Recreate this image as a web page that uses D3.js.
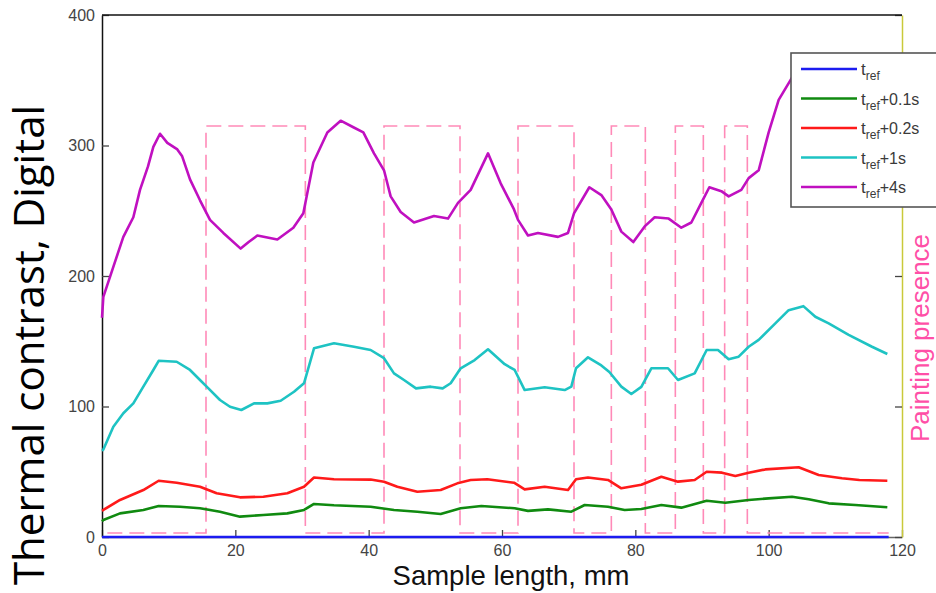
<!DOCTYPE html>
<html>
<head>
<meta charset="utf-8">
<script src="https://cdn.jsdelivr.net/npm/d3@7"></script>
<style>
  body { margin: 0; background: #fff; }
  svg { display: block; }
</style>
</head>
<body>
<div id="chart"></div>
<script>
// series values: [sample length mm, thermal contrast]
var tRef = [[0, 0], [118, 0]];
var tRef01 = [[0, 12], [0.2, 13], [2.7, 18.1], [6.2, 20.7], [8.5, 23.8], [11.7, 23.2], [14.7, 22], [17.7, 19.4],
  [20.7, 15.6], [24.2, 16.9], [27.8, 18.1], [30.3, 20.7], [31.8, 25.3], [34.8, 24.3], [40.3, 23.2], [43.8, 20.7],
  [47.3, 19.4], [50.8, 17.6], [53.8, 22], [56.9, 23.8], [61.9, 22], [63.9, 20], [66.9, 21.2], [70.4, 19.4],
  [72.4, 24.5], [75.9, 23.2], [78.4, 20.7], [80.9, 21.5], [83.9, 24.5], [86.9, 22.5], [90.7, 27.8], [93.5, 26.3],
  [97, 28.4], [100, 29.6], [103.5, 30.9], [106, 28.9], [109, 25.8], [113, 24.5], [117.8, 22.8]];
var tRef02 = [[0, 20], [0.2, 20.7], [2.7, 28.4], [6.2, 36], [8.5, 43.1], [11.2, 41.6], [14.7, 38.5], [17.2, 33.5],
  [20.7, 30.4], [24.2, 30.9], [27.8, 33.5], [30.3, 38.5], [31.8, 45.6], [34.8, 44.2], [40.3, 44], [42.3, 42.4],
  [44.3, 38.5], [47.3, 34.7], [50.8, 36], [53.3, 41.1], [55.3, 43.7], [57.8, 44.2], [61.8, 41.6], [63.4, 36.5],
  [66.4, 38.5], [69.9, 36], [71.1, 44.2], [72.9, 45.6], [75.9, 43.7], [77.9, 37.3], [80.9, 40], [83.9, 46.2],
  [86.4, 42.4], [88.9, 43.7], [90.7, 50], [93, 49.3], [95, 46.7], [97, 49.3], [99.5, 51.8], [104.5, 53.4],
  [107.5, 47.5], [111, 45], [113.6, 43.7], [117.8, 43.1]];
var tRef1 = [[0, 66], [0.2, 67], [1.7, 84.5], [3.2, 94.8], [4.7, 102.4], [6.2, 115.2], [7.7, 128], [8.5, 135],
  [11.2, 134.3], [13.2, 128], [14.7, 120.3], [15.7, 115.2], [17.7, 105], [19.2, 99.8], [20.9, 97.3], [22.8, 102.4],
  [24.8, 102.4], [26.8, 104.4], [28.8, 111.3], [30.3, 117.8], [31.8, 144.6], [34.8, 148.4], [37.8, 145.8],
  [40.3, 143.3], [42.3, 137], [43.8, 125.4], [45.3, 120.3], [47.1, 113.9], [49.3, 115.2], [51.1, 113.9],
  [52.3, 117.8], [53.8, 129.3], [55.9, 135.6], [57.9, 143.8], [60.4, 132.4], [61.9, 128], [63.4, 112.6],
  [66.4, 114.7], [69.4, 112.6], [70.4, 115.2], [71.1, 129.3], [72.9, 137.7], [74.9, 131.5], [76.1, 126.4],
  [77.9, 115.2], [79.4, 109.6], [80.9, 115], [82.4, 129.3], [84.9, 129.3], [86.4, 120.3], [88.9, 125.4],
  [90.7, 143.3], [92.4, 143.3], [94, 136.2], [95.5, 138.2], [97, 145.8], [98.5, 151], [101, 163.7], [103, 173.8],
  [105.2, 176.9], [107, 168.8], [109, 163.7], [112, 154.9], [115.5, 145.8], [117.8, 140.2]];
var tRef4 = [[0, 168], [0.2, 184], [1.7, 207], [3.2, 230], [4.7, 245], [5.7, 266], [6.9, 284], [7.7, 299],
  [8.7, 309], [9.8, 302], [11.3, 297], [12, 292], [13.2, 274], [14.7, 258], [16.2, 243], [18.2, 233], [20.8, 221],
  [22, 226], [23.3, 231], [26.3, 228], [28.7, 237], [30.2, 248], [31.7, 287], [33.8, 310], [35.8, 319], [37.7, 314],
  [39.2, 310], [40.8, 294], [42.3, 281], [43.3, 261], [44.8, 249], [46.8, 241], [49.8, 246], [51.9, 244],
  [53.4, 256], [55.3, 266], [57.9, 294], [59.8, 271], [61.8, 251], [62.4, 243], [63.9, 231], [65.4, 233],
  [68.4, 230], [69.9, 233], [70.8, 248], [73.1, 268], [74.9, 262], [76.4, 251], [77.9, 234], [79.7, 226],
  [81.4, 238], [82.9, 245], [85, 244], [86.9, 237], [88.4, 241], [89.9, 256], [91.1, 268], [92.9, 265], [94, 261],
  [95.9, 266], [97, 275], [98.5, 281], [100, 310], [101.5, 335], [103.5, 352], [105, 358], [108, 355], [112, 348],
  [115, 342], [118, 338]];

// painting presence (right axis): edges in mm and on/off state
var presenceEdges = [0.8, 15.6, 30.5, 42.3, 53.7, 62.4, 70.8, 76.4, 81.5, 86.0, 90.2, 93.4, 96.8, 118];
var presenceState = [0, 1, 0, 1, 0, 1, 0, 1, 0, 1, 0, 1, 0, 0];

var seriesNames = ["ref", "ref+0.1s", "ref+0.2s", "ref+1s", "ref+4s"];
var seriesData = [tRef, tRef01, tRef02, tRef1, tRef4];
var seriesColors = ["#1c1cf0", "#108a10", "#ff1a1a", "#1ec3c3", "#c010c0"];
var xTicks = [0, 20, 40, 60, 80, 100, 120];
var yTicks = [0, 100, 200, 300, 400];

var width = 936, height = 593;
var svg = d3.select("#chart").append("svg")
  .attr("width", width).attr("height", height);
svg.append("rect").attr("width", width).attr("height", height).attr("fill", "#fff");

var x = d3.scaleLinear().domain([0, 120]).range([102, 902]);
var y = d3.scaleLinear().domain([0, 400]).range([537, 15]);
var yR = d3.scaleLinear().domain([0, 1]).range([533, 126]);

var tickFont = "'Liberation Sans', Arial, sans-serif";

// axes
var xAxis = svg.append("g")
  .attr("transform", "translate(0," + y(0) + ")")
  .call(d3.axisBottom(x).tickValues(xTicks).tickSizeInner(-7).tickSizeOuter(0).tickPadding(8));
var yAxis = svg.append("g")
  .attr("transform", "translate(" + x(0) + ",0)")
  .call(d3.axisLeft(y).tickValues(yTicks).tickSizeInner(-7).tickSizeOuter(0).tickPadding(7));
var yAxisMirror = svg.append("g")
  .attr("transform", "translate(" + x(120) + ",0)")
  .call(d3.axisRight(y).tickValues(yTicks).tickSizeInner(-7).tickSizeOuter(0).tickFormat(""));

[xAxis, yAxis, yAxisMirror].forEach(function(g) {
  g.selectAll("text").style("font-family", tickFont).style("font-size", "16px").attr("fill", "#444");
  g.selectAll(".tick line").attr("stroke", "#444").attr("stroke-width", 1.3);
});
xAxis.select(".domain").attr("stroke", "#666").attr("stroke-width", 1.5);
yAxis.select(".domain").attr("stroke", "#111").attr("stroke-width", 1.5);
yAxisMirror.select(".domain").attr("stroke", "#c9c93a").attr("stroke-width", 1.5);

// top border
svg.append("line")
  .attr("x1", x(0)).attr("x2", x(120)).attr("y1", y(400)).attr("y2", y(400))
  .attr("stroke", "#111").attr("stroke-width", 1.5);

// painting presence dashed step
var presence = presenceEdges.map(function(e, i) { return [e, presenceState[i]]; });
svg.append("path")
  .datum(presence)
  .attr("fill", "none")
  .attr("stroke", "#ff8ab8")
  .attr("stroke-width", 1.6)
  .attr("stroke-dasharray", "15,7")
  .attr("d", d3.line().curve(d3.curveStepAfter)
    .x(function(d) { return x(d[0]); })
    .y(function(d) { return yR(d[1]); }));

// series
var line = d3.line()
  .x(function(d) { return x(d[0]); })
  .y(function(d) { return y(d[1]); });

svg.selectAll(".series")
  .data(seriesData)
  .enter()
  .append("path")
  .attr("class", "series")
  .attr("fill", "none")
  .attr("stroke", function(d, i) { return seriesColors[i]; })
  .attr("stroke-width", 2.6)
  .attr("stroke-linejoin", "round")
  .attr("d", line);

// legend
var legend = svg.append("g");
legend.append("rect")
  .attr("x", 791).attr("y", 53).attr("width", 160).attr("height", 154)
  .attr("fill", "#fff").attr("stroke", "#555").attr("stroke-width", 1.6);

var rows = legend.selectAll(".row")
  .data(seriesNames)
  .enter()
  .append("g")
  .attr("transform", function(d, i) { return "translate(0," + (69 + i * 29.5) + ")"; });

rows.append("line")
  .attr("x1", 801).attr("x2", 857)
  .attr("stroke", function(d, i) { return seriesColors[i]; })
  .attr("stroke-width", 2.6);

var lt = rows.append("text")
  .attr("x", 861).attr("y", 6)
  .style("font-family", tickFont)
  .attr("fill", "#3a3a3a");
lt.append("tspan").style("font-size", "17px").text("t");
lt.append("tspan").style("font-size", "12px").attr("dy", 5).text("ref");
lt.append("tspan").style("font-size", "16px").attr("dy", -5)
  .text(function(d) { return d.slice(3); });

// axis titles
svg.append("text")
  .attr("x", 511).attr("y", 585)
  .attr("text-anchor", "middle")
  .style("font-family", tickFont)
  .style("font-size", "27.5px")
  .attr("fill", "#111")
  .text("Sample length, mm");

svg.append("text")
  .attr("transform", "translate(44,345) rotate(-90)")
  .attr("text-anchor", "middle")
  .style("font-family", "'Open Sans', sans-serif")
  .style("font-size", "42px")
  .attr("fill", "#000")
  .text("Thermal contrast, Digital");

svg.append("text")
  .attr("transform", "translate(929,338) rotate(-90)")
  .attr("text-anchor", "middle")
  .style("font-family", tickFont)
  .style("font-size", "26px")
  .attr("fill", "#ff4fa7")
  .text("Painting presence");
</script>
</body>
</html>
